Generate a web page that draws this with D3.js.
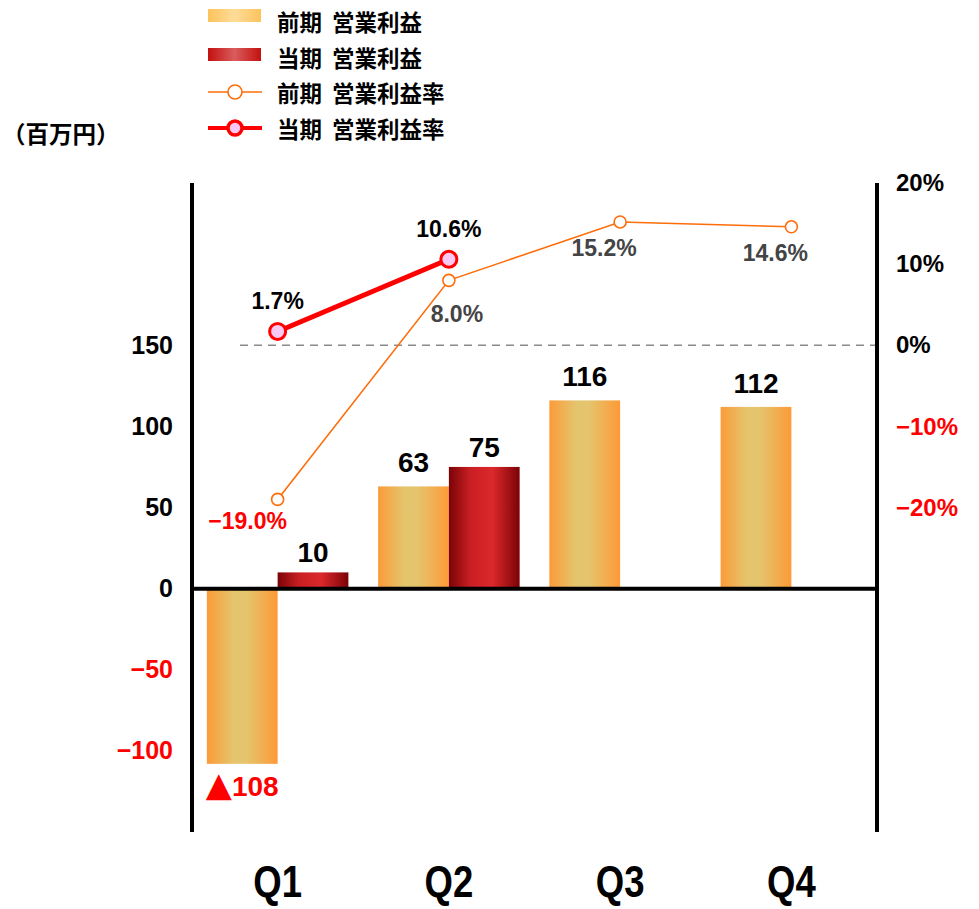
<!DOCTYPE html>
<html><head><meta charset="utf-8">
<script src="https://cdn.jsdelivr.net/npm/d3@7"></script>
<style>body{margin:0;background:#fff}svg{display:block}</style>
</head><body>
<script>
const categories = ["Q1","Q2","Q3","Q4"];
const prevProfit = [-108, 63, 116, 112];
const currProfit = [10, 75, null, null];
const prevRate = [-19.0, 8.0, 15.2, 14.6];
const currRate = [1.7, 10.6, null, null];
const leftTicks = [-100, -50, 0, 50, 100, 150];
const rightTicks = [-20, -10, 0, 10, 20];
const legendLabels = ["前期 営業利益","当期 営業利益","前期 営業利益率","当期 営業利益率"];
const unitLabel = "（百万円）";

(function(){
const W = 979, H = 909;
const svg = d3.select("body").append("svg").attr("width", W).attr("height", H);
const defs = svg.append("defs");
function grad(id, stops){
  const g = defs.append("linearGradient").attr("id", id).attr("x1","0%").attr("x2","100%").attr("y1","0%").attr("y2","0%");
  stops.forEach(s => g.append("stop").attr("offset", s[0]).attr("stop-color", s[1]));
}
grad("gPrev", [["0%","#fb9b38"],["38%","#e4c56e"],["55%","#e4c56e"],["100%","#fd9a37"]]);
grad("gCurr", [["0%","#7a0306"],["30%","#c81f23"],["62%","#dc282c"],["100%","#7a0306"]]);
grad("gPrevL", [["0%","#fcc35c"],["50%","#fedc98"],["100%","#fcc35c"]]);
grad("gCurrL", [["0%","#c41010"],["50%","#d95c5c"],["100%","#c41010"]]);

const pL = 192, pR = 877, pT = 183, pB = 832;
const x = d3.scaleBand().domain(categories).range([pL, pR]).paddingInner(0).paddingOuter(0);
const xi = d3.scaleBand().domain(["prev","curr"]).range([0, x.bandwidth()]).paddingInner(0).paddingOuter(0.21);
const yL = d3.scaleLinear().domain([-150, 250]).range([pB, pT]);
const yR = d3.scaleLinear().domain([-60, 20]).range([pB, pT]);
const cx = c => x(c) + x.bandwidth()/2;

const numFont = "'Liberation Sans', Arial, sans-serif";
const cjkFont = "'Noto Sans CJK JP', sans-serif";

svg.append("line").attr("x1", 240).attr("x2", pR).attr("y1", yR(0)).attr("y2", yR(0))
  .attr("stroke", "#8a8a8a").attr("stroke-width", 1.5).attr("stroke-dasharray", "8,6");

const prevData = categories.map((c,i)=>({c, v: prevProfit[i]}));
const currData = categories.map((c,i)=>({c, v: currProfit[i]})).filter(d => d.v != null);
svg.append("g").selectAll("rect").data(prevData).join("rect")
  .attr("x", d => x(d.c) + xi("prev")).attr("width", xi.bandwidth())
  .attr("y", d => yL(Math.max(0, d.v))).attr("height", d => Math.abs(yL(d.v) - yL(0)))
  .attr("fill", "url(#gPrev)");
svg.append("g").selectAll("rect").data(currData).join("rect")
  .attr("x", d => x(d.c) + xi("curr")).attr("width", xi.bandwidth())
  .attr("y", d => yL(Math.max(0, d.v))).attr("height", d => Math.abs(yL(d.v) - yL(0)))
  .attr("fill", "url(#gCurr)");

const pl = svg.append("g").selectAll("text").data(prevData).join("text")
  .attr("x", d => x(d.c) + xi("prev") + xi.bandwidth()/2)
  .attr("y", d => d.v >= 0 ? yL(d.v) - 14 : yL(d.v) + 32)
  .attr("text-anchor", "middle").attr("font-family", numFont).attr("font-weight", "bold").attr("font-size", 28)
  .attr("fill", d => d.v < 0 ? "#ff0000" : "#000");
pl.each(function(d){
  const t = d3.select(this);
  if (d.v < 0) {
    t.append("tspan").attr("font-size", 34).attr("font-family", "'DejaVu Sans', sans-serif").text("▲");
    t.append("tspan").text(Math.abs(d.v));
  } else {
    t.text(d.v);
  }
});
svg.append("g").selectAll("text").data(currData).join("text")
  .attr("x", d => x(d.c) + xi("curr") + xi.bandwidth()/2)
  .attr("y", d => yL(d.v) - 10)
  .attr("text-anchor", "middle").attr("font-family", numFont).attr("font-weight", "bold").attr("font-size", 28)
  .attr("fill", "#000").text(d => d.v);

svg.append("line").attr("x1", pL).attr("x2", pL).attr("y1", pT).attr("y2", pB).attr("stroke", "#000").attr("stroke-width", 4);
svg.append("line").attr("x1", pR).attr("x2", pR).attr("y1", pT).attr("y2", pB).attr("stroke", "#000").attr("stroke-width", 4);
svg.append("line").attr("x1", pL - 2).attr("x2", pR + 2).attr("y1", yL(0)).attr("y2", yL(0)).attr("stroke", "#000").attr("stroke-width", 4);

const gl = svg.append("g").attr("transform", `translate(${pL},0)`)
  .call(d3.axisLeft(yL).tickValues(leftTicks).tickSize(0).tickPadding(19).tickFormat(d => d < 0 ? "−" + Math.abs(d) : d));
gl.select(".domain").remove();
gl.selectAll("text").attr("font-family", numFont).attr("font-weight", "bold").attr("font-size", 25)
  .attr("fill", d => d < 0 ? "#ff0000" : "#000");

const gr = svg.append("g").attr("transform", `translate(${pR},0)`)
  .call(d3.axisRight(yR).tickValues(rightTicks).tickSize(0).tickPadding(19).tickFormat(d => (d < 0 ? "−" + Math.abs(d) : d) + "%"));
gr.select(".domain").remove();
gr.selectAll("text").attr("font-family", numFont).attr("font-weight", "bold").attr("font-size", 24)
  .attr("fill", d => d < 0 ? "#ff0000" : "#000");

svg.append("g").selectAll("text").data(categories).join("text")
  .attr("transform", d => `translate(${cx(d)},897) scale(0.83,1)`).attr("text-anchor", "middle")
  .attr("font-family", numFont).attr("font-weight", "bold").attr("font-size", 44)
  .text(d => d);

const prevPts = categories.map((c,i)=>({c, v: prevRate[i]}));
const currPts = categories.map((c,i)=>({c, v: currRate[i]})).filter(d => d.v != null);
const line = d3.line().x(d => cx(d.c)).y(d => yR(d.v));
svg.append("path").datum(prevPts).attr("d", line).attr("fill", "none").attr("stroke", "#ff6d0a").attr("stroke-width", 1.6);
svg.append("g").selectAll("circle").data(prevPts).join("circle")
  .attr("cx", d => cx(d.c)).attr("cy", d => yR(d.v)).attr("r", 6)
  .attr("fill", "#fff").attr("stroke", "#ff6d0a").attr("stroke-width", 1.6);
const prevOff = [[-30, 30], [8, 42], [-16, 34], [-16, 34]];
svg.append("g").selectAll("text").data(prevPts).join("text")
  .attr("x", (d,i) => cx(d.c) + prevOff[i][0]).attr("y", (d,i) => yR(d.v) + prevOff[i][1])
  .attr("text-anchor", "middle").attr("font-family", numFont).attr("font-weight", "bold").attr("font-size", 23)
  .attr("fill", d => d.v < 0 ? "#ff0000" : "#444")
  .text(d => (d.v < 0 ? "−" + Math.abs(d.v).toFixed(1) : d.v.toFixed(1)) + "%");

svg.append("path").datum(currPts).attr("d", line).attr("fill", "none").attr("stroke", "#ff0000").attr("stroke-width", 5);
svg.append("g").selectAll("circle").data(currPts).join("circle")
  .attr("cx", d => cx(d.c)).attr("cy", d => yR(d.v)).attr("r", 8)
  .attr("fill", "#f9c8f3").attr("stroke", "#ff0000").attr("stroke-width", 3);
svg.append("g").selectAll("text").data(currPts).join("text")
  .attr("x", d => cx(d.c)).attr("y", d => yR(d.v) - 22)
  .attr("text-anchor", "middle").attr("font-family", numFont).attr("font-weight", "bold").attr("font-size", 23)
  .attr("fill", "#000").text(d => d.v.toFixed(1) + "%");

svg.append("text").attr("x", 2).attr("y", 143).attr("font-family", cjkFont).attr("font-weight", "bold").attr("font-size", 23.5).text(unitLabel);

const lg = svg.append("g");
const rowY = [16, 54, 92, 128];
const textY = [23, 59, 94, 130];
lg.append("rect").attr("x", 208).attr("y", rowY[0]-7).attr("width", 53).attr("height", 13).attr("fill", "url(#gPrevL)");
lg.append("rect").attr("x", 208).attr("y", rowY[1]-6).attr("width", 53).attr("height", 13).attr("fill", "url(#gCurrL)");
lg.append("line").attr("x1", 208).attr("x2", 262).attr("y1", rowY[2]).attr("y2", rowY[2]).attr("stroke", "#ff6d0a").attr("stroke-width", 1.6);
lg.append("circle").attr("cx", 235).attr("cy", rowY[2]).attr("r", 7).attr("fill", "#fff").attr("stroke", "#ff6d0a").attr("stroke-width", 1.6);
lg.append("line").attr("x1", 208).attr("x2", 262).attr("y1", rowY[3]).attr("y2", rowY[3]).attr("stroke", "#ff0000").attr("stroke-width", 4);
lg.append("circle").attr("cx", 235).attr("cy", rowY[3]).attr("r", 7).attr("fill", "#f9c8f3").attr("stroke", "#ff0000").attr("stroke-width", 3.5);
lg.selectAll("text.l").data(legendLabels).join("text").attr("class", "l")
  .attr("x", 277).attr("y", (d,i) => textY[i] + 8)
  .attr("font-family", cjkFont).attr("font-weight", "bold").attr("font-size", 22.5)
  .style("word-spacing", "5px").text(d => d);
})();
</script>
</body></html>
